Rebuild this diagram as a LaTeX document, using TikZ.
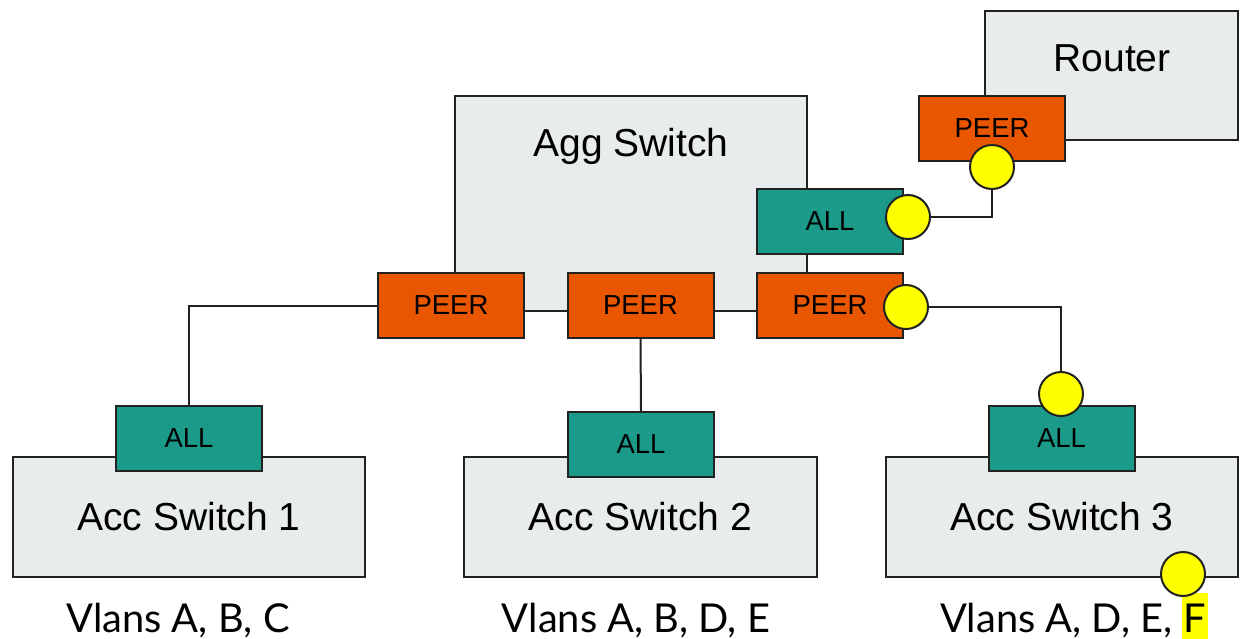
\documentclass[tikz,border=0pt]{standalone}
\usepackage{fontspec}
\setmainfont{Liberation Sans}
\newfontfamily\latofont{Lato}
\definecolor{boxgrey}{RGB}{232,236,237}
\definecolor{peerorange}{RGB}{232,86,0}
\definecolor{allteal}{RGB}{27,154,138}
\definecolor{edge}{RGB}{34,34,34}
\definecolor{marker}{RGB}{255,255,0}
\begin{document}
\begin{tikzpicture}[x=1pt,y=-1pt,
  device/.style={draw=edge,line width=2pt,fill=boxgrey,inner sep=0pt,
    font=\fontsize{39}{46}\selectfont},
  devlabel/.style={inner sep=0pt,anchor=base,font=\fontsize{39}{46}\selectfont},
  port/.style={draw=edge,line width=2pt,inner sep=0pt,
    minimum width=146pt,minimum height=65pt,font=\fontsize{27.5}{32}\selectfont},
  peerport/.style={port,fill=peerorange},
  allport/.style={port,fill=allteal},
  dot/.style={circle,draw=edge,line width=2pt,fill=marker,inner sep=0pt,minimum size=44pt},
  link/.style={draw=edge,line width=2pt},
  vlans/.style={inner sep=0pt,anchor=base,font=\latofont\fontsize{39.8}{46}\selectfont}]
\useasboundingbox (0,0) rectangle (1245,639);

% devices
\node[device,minimum width=352pt,minimum height=215pt] (agg) at (631,203.5) {};
\node[devlabel] (aggtext) at (631,157) {Agg Switch};
\node[device,minimum width=253pt,minimum height=129pt] (router) at (1111.5,75.5) {};
\node[devlabel] (routertext) at (1112,72) {Router};
\node[device,minimum width=352pt,minimum height=120pt] (acc1) at (189,517) {Acc Switch 1};
\node[device,minimum width=353pt,minimum height=120pt] (acc2) at (640.5,517) {Acc Switch 2};
\node[device,minimum width=352pt,minimum height=120pt] (acc3) at (1062,517) {Acc Switch 3};

% ports
\node[peerport] (peer1) at (451,305.5) {PEER};
\node[peerport] (peer2) at (640.5,305.5) {PEER};
\node[peerport] (peer3) at (830,305.5) {PEER};
\node[allport] (allagg) at (830,221.5) {ALL};
\node[peerport] (peerr) at (992,128.5) {PEER};
\node[allport] (all1) at (189,438.5) {ALL};
\node[allport] (all2) at (641,444.5) {ALL};
\node[allport] (all3) at (1061.5,438.5) {ALL};

% highlighted VLAN markers
\node[dot] (dotr) at (992,167) {};
\node[dot] (dotagg) at (908,217) {};
\node[dot] (dotp3) at (906,307) {};
\node[dot] (dota3) at (1061,394) {};

% links
\draw[link] (peer1.west) -| (all1.north);
\draw[link] (peer2.south) -- (all2.north);
\draw[link] (dotp3.east) -| (dota3.north);
\draw[link] (dotagg.east) -| (dotr.south);

% VLAN lists
\node[vlans] (vl1) at (178,632) {Vlans A, B, C};
\node[vlans] (vl2) at (636,632) {Vlans A, B, D, E};
\node[vlans] (vl3) at (1074,632) {Vlans A, D, E, {\setlength\fboxsep{1.5pt}\colorbox{marker}{\rule[-6.5pt]{0pt}{44pt}F}}};
\node[dot] (dotacc3) at (1183,574) {};
\end{tikzpicture}
\end{document}
